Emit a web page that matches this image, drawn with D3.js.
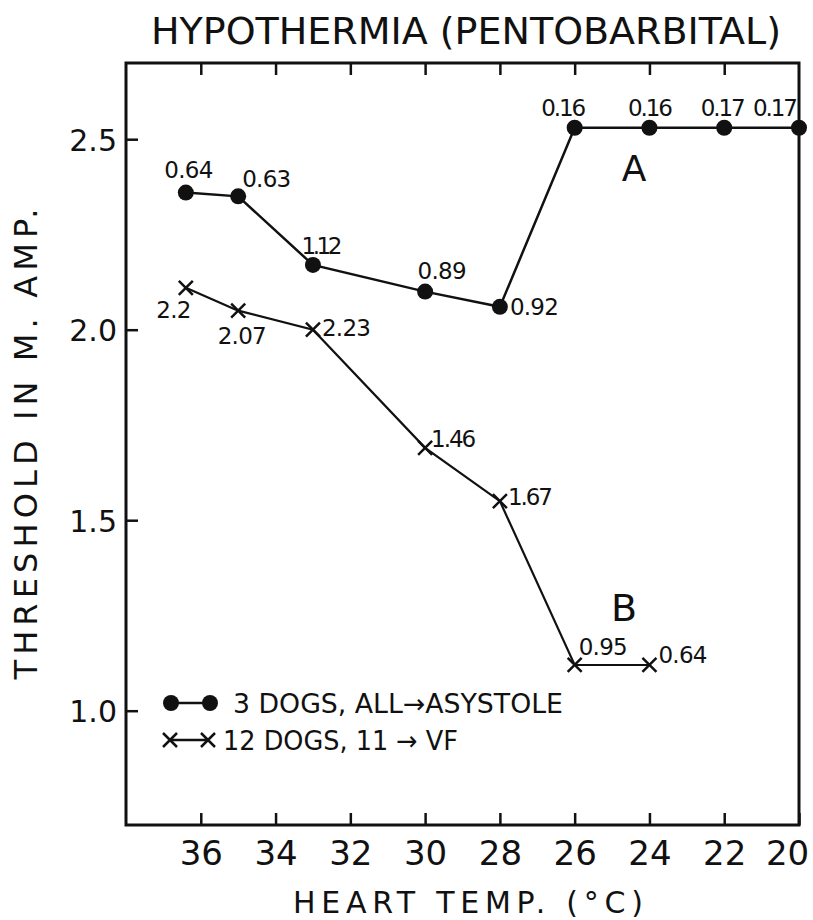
<!DOCTYPE html>
<html>
<head>
<meta charset="utf-8">
<script src="https://cdn.jsdelivr.net/npm/d3@7"></script>
<style>
  html, body { margin: 0; padding: 0; background: #fff; }
  svg { display: block; }
  text { font-family: "DejaVu Sans", sans-serif; fill: #111; }
</style>
</head>
<body>
<svg id="chart" width="813" height="920"></svg>
<script>
// ---------- data ----------
const xTicks = [36, 34, 32, 30, 28, 26, 24, 22, 20];
const yTicks = [1.0, 1.5, 2.0, 2.5];
const yTickLabels = ["1.0", "1.5", "2.0", "2.5"];

const tempsA = [36.4, 35, 33, 30, 28, 26, 24, 22, 20];
const valuesA = [2.36, 2.35, 2.17, 2.10, 2.06, 2.53, 2.53, 2.53, 2.53];
const labelsA = ["0.64", "0.63", "1.12", "0.89", "0.92", "0.16", "0.16", "0.17", "0.17"];

const tempsB = [36.4, 35, 33, 30, 28, 26, 24];
const valuesB = [2.11, 2.05, 2.00, 1.69, 1.55, 1.12, 1.12];
const labelsB = ["2.2", "2.07", "2.23", "1.46", "1.67", "0.95", "0.64"];

const titleText = "HYPOTHERMIA (PENTOBARBITAL)";
const xTitle = "HEART TEMP. (°C)";
const yTitle = "THRESHOLD IN M. AMP.";
const legendA = "3 DOGS, ALL\u2192ASYSTOLE";
const legendB = "12 DOGS, 11 \u2192 VF";

// ---------- label placement (styling) ----------
const offA = [[3,-15,"middle"],[4,-9,"start"],[9,-11,"middle"],[17,-13,"middle"],[10,8,"start"],
              [-11,-12,"middle"],[1,-12,"middle"],[-1,-12,"middle"],[-1,-12,"end"]];
const offB = [[-12,30,"middle"],[4,33,"middle"],[9,6,"start"],[6,-1,"start"],[8,4,"start"],
              [4,-10,"start"],[9,-2,"start"]];
// lettering widths (narrow "1" as in hand lettering)
const charW = c => c === "1" ? 10 : c === "." ? 7 : 14;
const labW = s => s.split("").reduce((a, c) => a + charW(c), 0);

// ---------- layout ----------
const svg = d3.select("#chart");
const L = 126, R = 799, T = 63, B = 825;
const x = d3.scaleLinear().domain([38, 20]).range([L, R]);
const y = d3.scaleLinear().domain([0.7, 2.7]).range([B, T]);

// frame
svg.append("rect").attr("x", L).attr("y", T).attr("width", R - L).attr("height", B - T)
  .attr("fill", "none").attr("stroke", "#111").attr("stroke-width", 3);

// bottom axis
const gx = svg.append("g").attr("transform", `translate(0,${B})`)
  .call(d3.axisBottom(x).tickValues(xTicks).tickSize(-12).tickPadding(18).tickFormat(d3.format("d")));
gx.select(".domain").remove();
gx.selectAll(".tick line").attr("stroke", "#111").attr("stroke-width", 2.5);
gx.selectAll(".tick text").attr("font-size", 34).attr("dy", 0).attr("y", 40)
  .attr("dx", (d) => d === 20 ? -12 : 0);

// top axis ticks
const gt = svg.append("g").attr("transform", `translate(0,${T})`)
  .call(d3.axisTop(x).tickValues(xTicks.slice(0, 8)).tickSize(-12).tickFormat(""));
gt.select(".domain").remove();
gt.selectAll(".tick line").attr("stroke", "#111").attr("stroke-width", 2.5);

// left axis
const gy = svg.append("g").attr("transform", `translate(${L},0)`)
  .call(d3.axisLeft(y).tickValues(yTicks).tickSize(-12).tickPadding(10)
    .tickFormat((d, i) => yTickLabels[i]));
gy.select(".domain").remove();
gy.selectAll(".tick line").attr("stroke", "#111").attr("stroke-width", 2.5);
gy.selectAll(".tick text").attr("font-size", 30).attr("x", -9).attr("dy", "0.36em");

// titles
svg.append("text").attr("x", 151).attr("y", 44).attr("font-size", 38)
  .attr("textLength", 630).attr("lengthAdjust", "spacingAndGlyphs").text(titleText);
svg.append("text").attr("x", 293).attr("y", 913).attr("font-size", 30)
  .attr("textLength", 350).attr("lengthAdjust", "spacing").text(xTitle);
svg.append("text").attr("transform", "translate(37,444) rotate(-90)")
  .attr("text-anchor", "middle").attr("font-size", 32)
  .attr("textLength", 471).attr("lengthAdjust", "spacing").text(yTitle);

// series
const dataA = tempsA.map((t, i) => ({ t, v: valuesA[i], lab: labelsA[i], off: offA[i] }));
const dataB = tempsB.map((t, i) => ({ t, v: valuesB[i], lab: labelsB[i], off: offB[i] }));
const line = d3.line().x(d => x(d.t)).y(d => y(d.v));

svg.append("path").datum(dataA).attr("d", line).attr("fill", "none")
  .attr("stroke", "#111").attr("stroke-width", 2.5);
svg.append("path").datum(dataB).attr("d", line).attr("fill", "none")
  .attr("stroke", "#111").attr("stroke-width", 2.2);

svg.selectAll("circle.a").data(dataA).join("circle").attr("class", "a")
  .attr("cx", d => x(d.t)).attr("cy", d => y(d.v)).attr("r", 8).attr("fill", "#111");

const cross = (g, cx, cy, s) => {
  g.append("path")
    .attr("d", `M${cx - s},${cy - s}L${cx + s},${cy + s}M${cx - s},${cy + s}L${cx + s},${cy - s}`)
    .attr("stroke", "#111").attr("stroke-width", 2.5).attr("fill", "none");
};
const gB = svg.append("g");
dataB.forEach(d => cross(gB, x(d.t), y(d.v), 7));

[["la", dataA], ["lb", dataB]].forEach(([cls, data]) => {
  svg.selectAll("text." + cls).data(data).join("text").attr("class", cls)
    .attr("x", d => x(d.t) + d.off[0]).attr("y", d => y(d.v) + d.off[1])
    .attr("text-anchor", d => d.off[2]).attr("font-size", 23)
    .attr("textLength", d => labW(d.lab)).attr("lengthAdjust", "spacing")
    .text(d => d.lab);
});

// curve letters
svg.append("text").attr("x", x(24.41)).attr("y", y(2.39)).attr("text-anchor", "middle")
  .attr("font-size", 36).text("A");
svg.append("text").attr("x", x(24.68)).attr("y", y(1.235)).attr("text-anchor", "middle")
  .attr("font-size", 38).text("B");

// legend
const lg = svg.append("g");
lg.append("line").attr("x1", 171).attr("x2", 210).attr("y1", 703).attr("y2", 703)
  .attr("stroke", "#111").attr("stroke-width", 2.5);
[171, 210].forEach(cx => lg.append("circle").attr("cx", cx).attr("cy", 703).attr("r", 8).attr("fill", "#111"));
lg.append("text").attr("x", 233).attr("y", 713).attr("font-size", 27)
  .attr("textLength", 330).attr("lengthAdjust", "spacingAndGlyphs").text(legendA);
lg.append("line").attr("x1", 170).attr("x2", 208).attr("y1", 740).attr("y2", 740)
  .attr("stroke", "#111").attr("stroke-width", 2.5);
[170, 208].forEach(cx => cross(lg, cx, 740, 7));
lg.append("text").attr("x", 223).attr("y", 750).attr("font-size", 27)
  .attr("textLength", 235).attr("lengthAdjust", "spacingAndGlyphs").text(legendB);
</script>
</body>
</html>
